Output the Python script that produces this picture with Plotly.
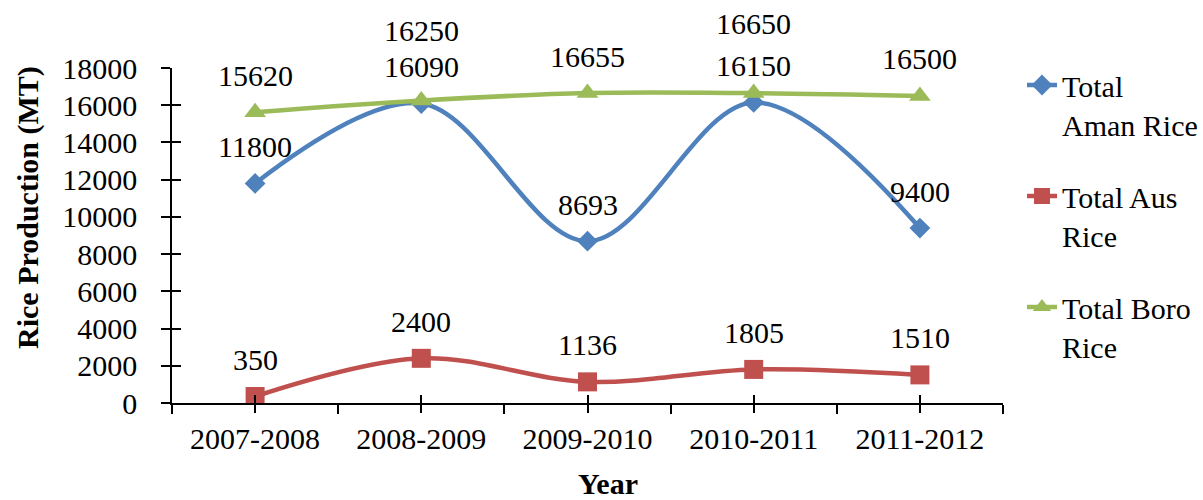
import plotly.graph_objects as go

# Rice production by season, in metric tonnes
years = ["2007-2008", "2008-2009", "2009-2010", "2010-2011", "2011-2012"]
aman = [11800, 16090, 8693, 16150, 9400]
aus = [350, 2400, 1136, 1805, 1510]
boro = [15620, 16250, 16655, 16650, 16500]
series_names = ["Total<br>Aman Rice", "Total Aus<br>Rice", "Total Boro<br>Rice"]
y_ticks = list(range(0, 18001, 2000))
y_tick_labels = [str(v) for v in y_ticks]

FONT = "'Liberation Serif', 'Times New Roman', Times, serif"
FS = 30
pos = list(range(len(years)))
bounds = [p - 0.5 for p in pos] + [pos[-1] + 0.5]

styles = [
    dict(color="#4F81BD", symbol="diamond", size=16),
    dict(color="#C0504D", symbol="square", size=19),
    dict(color="#9BBB59", symbol="triangle-up", size=19),
]

fig = go.Figure()
for name, vals, st in zip(series_names, [aman, aus, boro], styles):
    fig.add_trace(go.Scatter(
        x=pos, y=vals, name=name, mode="lines+markers", legendgroup=name,
        line=dict(color=st["color"], width=4.5, shape="spline", smoothing=1),
        marker=dict(symbol=st["symbol"], size=st["size"], color=st["color"]),
    ))

# invisible trace carrying the overlay axes that draw the inner half of the cross ticks
fig.add_trace(go.Scatter(x=[None], y=[None], xaxis="x2", yaxis="y2",
                         showlegend=False, hoverinfo="skip"))

# value labels above each point; Boro labels stack above Aman where they crowd
for i in pos:
    for vals, other in ((aman, None), (aus, None), (boro, aman)):
        shift = 37
        if other is not None and abs(vals[i] - other[i]) < 1000:
            shift = 70
        fig.add_annotation(x=i, y=vals[i], text=str(vals[i]), showarrow=False,
                           yshift=shift, font=dict(family=FONT, size=FS, color="black"))

L, R, T, B = 172, 200, 68, 97
W, H = 1203, 500
pw, ph = W - L - R, H - T - B

fig.add_annotation(text="<b>Rice Production (MT)</b>", textangle=-90, showarrow=False,
                   xref="paper", yref="paper", x=(28 - L) / pw, y=(H - B - 208) / ph,
                   xanchor="center", yanchor="middle",
                   font=dict(family=FONT, size=FS, color="black"))
fig.add_annotation(text="<b>Year</b>", showarrow=False,
                   xref="paper", yref="paper", x=(608 - L) / pw, y=(H - B - 502) / ph,
                   xanchor="center", yanchor="bottom",
                   font=dict(family=FONT, size=FS, color="black"))

axis_font = dict(family=FONT, size=FS, color="black")
fig.update_layout(
    width=W, height=H,
    margin=dict(l=L, r=R, t=T, b=B, autoexpand=False),
    paper_bgcolor="white", plot_bgcolor="white",
    font=dict(family=FONT, size=FS, color="black"),
    showlegend=True,
    legend=dict(x=(1022 - L) / pw, y=1 + 9 / ph, xanchor="left", yanchor="top",
                font=dict(family=FONT, size=FS, color="black"),
                valign="top", tracegroupgap=30, bgcolor="rgba(0,0,0,0)",
                maxheight=480),
    xaxis=dict(range=[bounds[0], bounds[-1]], tickvals=pos, ticktext=years,
               ticks="outside", ticklen=8, tickwidth=1.5, tickcolor="black",
               showline=True, linecolor="black", linewidth=1.5,
               showgrid=False, zeroline=False, tickfont=axis_font,
               ticklabelstandoff=0,
               minor=dict(tickvals=bounds, ticks="outside", ticklen=9,
                          tickwidth=1.5, tickcolor="black", showgrid=False)),
    yaxis=dict(range=[0, 18000], tickvals=y_ticks, ticktext=y_tick_labels,
               ticks="outside", ticklen=9,
               tickwidth=1.5, tickcolor="black", showline=True, linecolor="black",
               linewidth=1.5, showgrid=False, zeroline=False, tickfont=axis_font,
               ticklabelstandoff=18),
    xaxis2=dict(overlaying="x", anchor="y", range=[bounds[0], bounds[-1]],
                tickvals=pos, ticks="inside", ticklen=8, tickwidth=1.5,
                tickcolor="black", showticklabels=False, showgrid=False,
                zeroline=False, showline=False),
    yaxis2=dict(overlaying="y", anchor="x", side="left", range=[0, 18000],
                tickvals=y_ticks, ticks="inside", ticklen=9, tickwidth=1.5,
                tickcolor="black", showticklabels=False, showgrid=False,
                zeroline=False, showline=False),
)

fig.write_html("out.html")
